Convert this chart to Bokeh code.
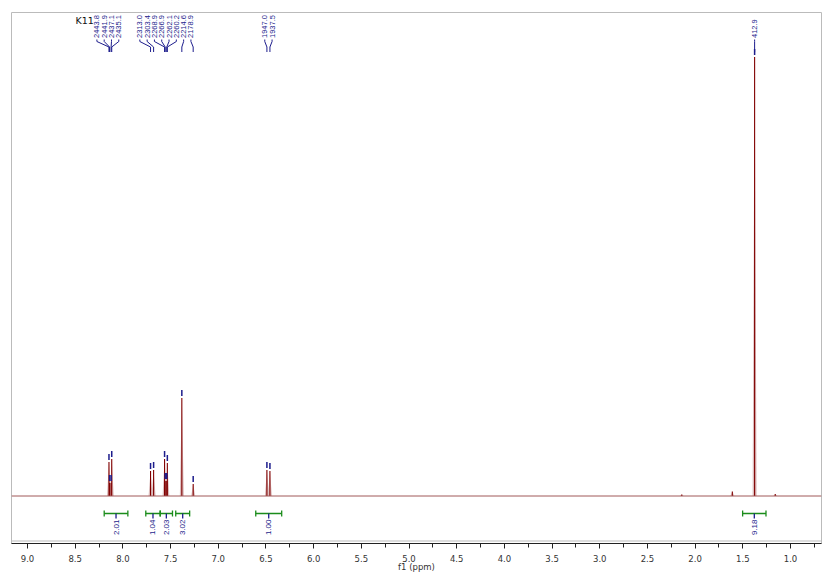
import math
from bokeh.plotting import figure
from bokeh.models import Range1d, FixedTicker, NumeralTickFormatter, Span, Label
from bokeh.embed import file_html
from bokeh.resources import INLINE
from bokeh.core.properties import value

# ---------------- data ----------------
sample_name = "K11"
spectrometer_mhz = 300.0
peak_hz = [2443.8, 2441.9, 2437.1, 2435.1, 2313.0, 2303.4, 2268.9, 2266.9,
           2262.1, 2260.2, 2214.6, 2178.9, 1947.0, 1937.5, 412.9]
peak_height = [34, 13, 13, 37, 25, 26, 37, 15, 15, 33, 98, 12, 26, 25, 439]
minor_peak_ppm = [2.14, 1.61, 1.16]
minor_peak_height = [1.5, 4.5, 2.0]
integral_from = [8.196, 7.760, 7.609, 7.446, 6.607, 1.502]
integral_to = [7.948, 7.609, 7.480, 7.300, 6.335, 1.257]
integral_value = [2.01, 1.04, 2.03, 3.02, 1.00, 9.18]
x_ticks = [9.0, 8.5, 8.0, 7.5, 7.0, 6.5, 6.0, 5.5, 5.0, 4.5, 4.0, 3.5, 3.0, 2.5, 2.0, 1.5, 1.0]
x_minor_ticks = [8.75, 8.25, 7.75, 7.25, 6.75, 6.25, 5.75, 5.25, 4.75, 4.25,
                 3.75, 3.25, 2.75, 2.25, 1.75, 1.25, 0.75]
axis_title = "f1 (ppm)"

# ---------------- layout ----------------
X_START, X_END = 9.168, 0.675
Y_START, Y_END = -47.5, 483.5
FRAME_W = 810
PPM_PER_PX = (X_START - X_END) / FRAME_W

RED = "#800000"
PINK = "#dcbcbc"
BLUE = "#1c1c8c"
GREEN = "#1b8c1b"

p = figure(width=829, height=576, output_backend="svg", toolbar_location=None,
           x_range=Range1d(X_START, X_END), y_range=Range1d(Y_START, Y_END),
           y_axis_location=None, min_border_left=11, min_border_right=8,
           min_border_top=12, min_border_bottom=33)
p.grid.visible = False
p.outline_line_color = "#bbbbbb"
p.outline_line_width = 1
p.background_fill_color = "white"
p.border_fill_color = "white"

xa = p.xaxis[0]
xa.ticker = FixedTicker(ticks=x_ticks, minor_ticks=x_minor_ticks)
xa.formatter = NumeralTickFormatter(format="0.0")
xa.major_tick_in = 0
xa.major_tick_out = 5
xa.minor_tick_in = 0
xa.minor_tick_out = 4
xa.axis_line_color = "#222222"
xa.major_tick_line_color = "#222222"
xa.minor_tick_line_color = "#222222"
xa.major_label_text_font = "DejaVu Sans"
xa.major_label_text_font_size = "8.5px"
xa.major_label_text_color = "#333333"
xa.major_label_standoff = 6
xa.axis_label = axis_title
xa.axis_label_text_font = "DejaVu Sans"
xa.axis_label_text_font_size = "8.5px"
xa.axis_label_text_font_style = "normal"
xa.axis_label_text_color = "#333333"
xa.axis_label_standoff = -3

# gray frame bottom just above the axis line
p.add_layout(Span(location=Y_START + 2.5, dimension="width", line_color="#bbbbbb", line_width=1))

# baseline
p.add_layout(Span(location=0, dimension="width", line_color="#a05858", line_width=1))

peak_ppm = [h / spectrometer_mhz for h in peak_hz]
all_ppm = peak_ppm + minor_peak_ppm
all_h = peak_height + minor_peak_height

# halo of each line
w = 2.0 * PPM_PER_PX
p.patches(xs=[[x + w, x, x - w] for x in all_ppm],
          ys=[[0, h, 0] for h in all_h],
          fill_color=PINK, line_color=None)
# core of each line
p.segment(x0=all_ppm, y0=[0] * len(all_ppm), x1=all_ppm, y1=all_h,
          line_color=RED, line_width=1.1)

# peak markers
p.segment(x0=peak_ppm, y0=[h + 2 for h in peak_height], x1=peak_ppm,
          y1=[h + 8 for h in peak_height], line_color=BLUE, line_width=1.5)


def spread(desired_px, gap, bias_big=0.0):
    order = sorted(range(len(desired_px)), key=lambda i: desired_px[i])
    clusters = []
    for i in order:
        clusters.append([i])
        while len(clusters) > 1:
            a, b = clusters[-2], clusters[-1]
            ca = sum(desired_px[k] for k in a) / len(a)
            cb = sum(desired_px[k] for k in b) / len(b)
            a_end = ca + (len(a) - 1) / 2 * gap
            b_start = cb - (len(b) - 1) / 2 * gap
            if b_start - a_end < gap:
                clusters[-2:] = [a + b]
            else:
                break
    pos = [0.0] * len(desired_px)
    for c in clusters:
        cen = sum(desired_px[k] for k in c) / len(c)
        if len(c) > 2:
            cen += bias_big
        for j, k in enumerate(c):
            pos[k] = cen + (j - (len(c) - 1) / 2) * gap
    return pos


def to_px(ppm):
    return (X_START - ppm) / PPM_PER_PX


def to_ppm(px):
    return X_START - px * PPM_PER_PX


# peak labels
lab_px = spread([to_px(x) for x in peak_ppm], 7.3, bias_big=-2.5)
lab_ppm = [to_ppm(v) for v in lab_px]
p.multi_line(xs=[[lx, lx, px, px] for lx, px in zip(lab_ppm, peak_ppm)],
             ys=[[456.5, 454.5, 449.0, 444.0] for _ in peak_ppm],
             line_color=BLUE, line_width=1)
p.text(x=lab_ppm, y=[458.0] * len(lab_ppm), text=[f"{h:.1f}" for h in peak_hz],
       angle=math.pi / 2, text_align="left", text_baseline="middle",
       text_font=value("Liberation Sans"), text_font_size="7.5px", text_color=BLUE)

# integrals
cen = [(a + b) / 2 for a, b in zip(integral_from, integral_to)]
cap = 3.0
p.segment(x0=integral_from, y0=[-17.5] * len(cen), x1=integral_to, y1=[-17.5] * len(cen),
          line_color=GREEN, line_width=1.3)
p.segment(x0=integral_from + integral_to, y0=[-17.5 - cap] * (2 * len(cen)),
          x1=integral_from + integral_to, y1=[-17.5 + cap] * (2 * len(cen)),
          line_color=GREEN, line_width=1.3)
p.segment(x0=cen, y0=[-17.5] * len(cen), x1=cen, y1=[-22.5] * len(cen),
          line_color=BLUE, line_width=1.3)
p.text(x=cen, y=[-23.5] * len(cen), text=[f"{v:.2f}" for v in integral_value],
       angle=math.pi / 2, text_align="right", text_baseline="middle",
       text_font=value("Liberation Sans"), text_font_size="8px", text_color=BLUE)

# sample name
p.add_layout(Label(x=X_START - 64 * PPM_PER_PX, y=Y_END - 2, text=sample_name,
                   text_align="left", text_baseline="top", text_font="DejaVu Sans",
                   text_font_size="9.5px", text_color="#111111"))

open("out.html", "w").write(file_html(p, INLINE))
